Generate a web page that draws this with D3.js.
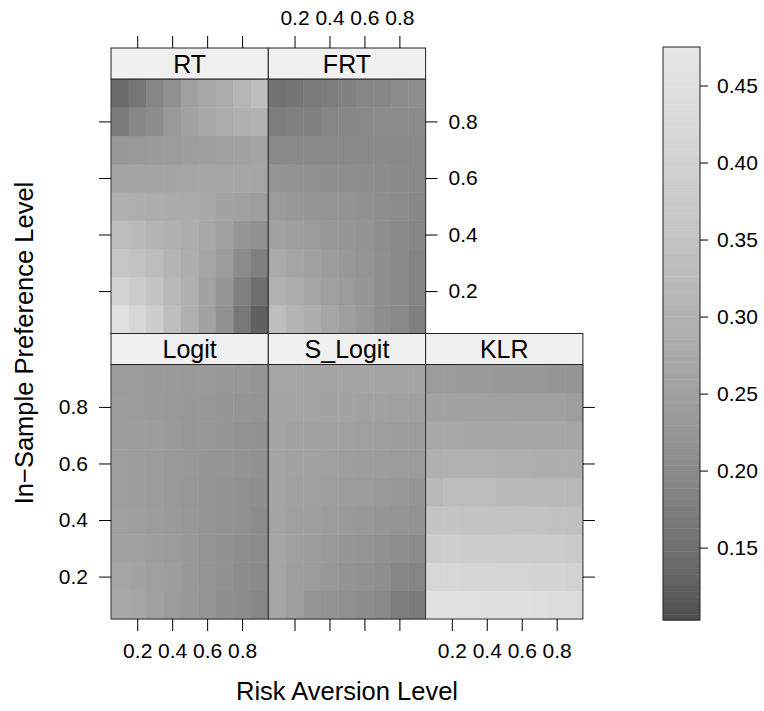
<!DOCTYPE html>
<meta charset="utf-8">
<style>
body {
  margin: 0;
  background: #fff;
}
svg {
  font-family: "Liberation Sans", Arial, sans-serif;
}
.tick text {
  font-size: 21px;
  fill: #000;
}
.tick line {
  stroke: #000;
}
.strip text {
  font-size: 25px;
}
.title {
  font-size: 25.5px;
}
</style>
<body>
<svg width="764" height="711"></svg>
<script src="https://d3js.org/d3.v7.min.js"></script>
<script>

// x: risk aversion level, y: in-sample preference level
var riskLevels = [0.1, 0.2, 0.3, 0.4, 0.5, 0.6, 0.7, 0.8, 0.9];
var prefLevels = [0.1, 0.2, 0.3, 0.4, 0.5, 0.6, 0.7, 0.8, 0.9];
var axisTicks = [0.2, 0.4, 0.6, 0.8];
var keyTicks = [0.15, 0.20, 0.25, 0.30, 0.35, 0.40, 0.45];
var keyRange = [0.103, 0.475];

// one row per preference level (0.1 first), one value per risk level
var rt = [
  [0.456, 0.419, 0.383, 0.335, 0.293, 0.255, 0.214, 0.163, 0.128],
  [0.408, 0.380, 0.354, 0.320, 0.293, 0.255, 0.225, 0.178, 0.149],
  [0.360, 0.347, 0.329, 0.304, 0.287, 0.263, 0.238, 0.203, 0.178],
  [0.329, 0.323, 0.304, 0.293, 0.282, 0.271, 0.250, 0.225, 0.214],
  [0.293, 0.287, 0.282, 0.279, 0.276, 0.273, 0.255, 0.250, 0.245],
  [0.260, 0.260, 0.260, 0.260, 0.263, 0.263, 0.263, 0.266, 0.263],
  [0.230, 0.233, 0.235, 0.238, 0.243, 0.245, 0.250, 0.255, 0.260],
  [0.169, 0.193, 0.203, 0.233, 0.255, 0.271, 0.282, 0.293, 0.298],
  [0.140, 0.161, 0.188, 0.212, 0.250, 0.271, 0.284, 0.307, 0.335]
];
var frt = [
  [0.335, 0.304, 0.282, 0.263, 0.245, 0.230, 0.209, 0.197, 0.178],
  [0.296, 0.282, 0.266, 0.250, 0.238, 0.225, 0.209, 0.199, 0.186],
  [0.276, 0.263, 0.250, 0.240, 0.230, 0.221, 0.209, 0.199, 0.186],
  [0.255, 0.245, 0.238, 0.230, 0.225, 0.218, 0.207, 0.199, 0.193],
  [0.238, 0.230, 0.225, 0.221, 0.218, 0.214, 0.207, 0.203, 0.195],
  [0.221, 0.218, 0.214, 0.209, 0.207, 0.205, 0.203, 0.199, 0.197],
  [0.197, 0.197, 0.197, 0.197, 0.197, 0.197, 0.197, 0.197, 0.197],
  [0.173, 0.178, 0.182, 0.188, 0.193, 0.197, 0.201, 0.203, 0.203],
  [0.154, 0.159, 0.167, 0.173, 0.182, 0.193, 0.193, 0.203, 0.207]
];
var logit = [
  [0.271, 0.263, 0.250, 0.240, 0.230, 0.221, 0.209, 0.203, 0.193],
  [0.263, 0.255, 0.248, 0.243, 0.230, 0.221, 0.214, 0.203, 0.199],
  [0.255, 0.250, 0.243, 0.238, 0.230, 0.221, 0.214, 0.207, 0.203],
  [0.250, 0.245, 0.240, 0.235, 0.230, 0.225, 0.218, 0.214, 0.203],
  [0.245, 0.243, 0.238, 0.233, 0.228, 0.223, 0.218, 0.214, 0.209],
  [0.245, 0.243, 0.238, 0.233, 0.230, 0.225, 0.223, 0.218, 0.214],
  [0.243, 0.240, 0.238, 0.235, 0.230, 0.228, 0.225, 0.216, 0.214],
  [0.240, 0.238, 0.235, 0.233, 0.230, 0.228, 0.225, 0.223, 0.221],
  [0.238, 0.238, 0.235, 0.235, 0.233, 0.233, 0.230, 0.230, 0.225]
];
var sLogit = [
  [0.263, 0.245, 0.225, 0.216, 0.212, 0.203, 0.199, 0.173, 0.167],
  [0.263, 0.245, 0.238, 0.230, 0.218, 0.214, 0.209, 0.193, 0.188],
  [0.263, 0.250, 0.243, 0.235, 0.225, 0.221, 0.214, 0.207, 0.203],
  [0.260, 0.250, 0.245, 0.240, 0.235, 0.230, 0.225, 0.221, 0.216],
  [0.260, 0.253, 0.250, 0.245, 0.240, 0.238, 0.233, 0.230, 0.225],
  [0.260, 0.255, 0.253, 0.250, 0.245, 0.243, 0.240, 0.238, 0.238],
  [0.260, 0.255, 0.255, 0.250, 0.250, 0.248, 0.245, 0.243, 0.243],
  [0.260, 0.260, 0.260, 0.258, 0.258, 0.253, 0.253, 0.250, 0.250],
  [0.263, 0.263, 0.260, 0.260, 0.260, 0.260, 0.260, 0.260, 0.260]
];
var klr = [
  [0.456, 0.452, 0.452, 0.448, 0.448, 0.448, 0.444, 0.437, 0.437],
  [0.419, 0.419, 0.415, 0.415, 0.412, 0.412, 0.408, 0.408, 0.401],
  [0.383, 0.387, 0.383, 0.383, 0.380, 0.380, 0.377, 0.377, 0.373],
  [0.354, 0.354, 0.351, 0.351, 0.351, 0.347, 0.347, 0.344, 0.341],
  [0.317, 0.329, 0.329, 0.329, 0.323, 0.323, 0.320, 0.320, 0.317],
  [0.293, 0.296, 0.296, 0.296, 0.290, 0.290, 0.287, 0.287, 0.287],
  [0.271, 0.271, 0.268, 0.268, 0.268, 0.266, 0.266, 0.266, 0.263],
  [0.255, 0.255, 0.255, 0.253, 0.253, 0.250, 0.250, 0.250, 0.245],
  [0.238, 0.238, 0.235, 0.235, 0.230, 0.230, 0.228, 0.225, 0.225]
];

var panelNames = ["RT", "FRT", "Logit", "S_Logit", "KLR"];
var panelData = [rt, frt, logit, sLogit, klr];
// lattice layout: col, row (row 0 = top)
var panelPos = [[0, 0], [1, 0], [0, 1], [1, 1], [2, 1]];

var svg = d3.select("svg");

// layout
var left = 111, panelW = 157.3;
var stripH = 31, panelH = 254.5;
var topY = 48;

var color = d3.scaleLinear()
    .domain(keyRange)
    .range(["#4d4d4d", "#e6e6e6"])
    .interpolate(d3.interpolateRgb.gamma(2.2));

var fmt1 = d3.format(".1f");

panelNames.forEach(function(name, i) {
  var col = panelPos[i][0], row = panelPos[i][1];
  var x0 = left + col * panelW;
  var s0 = topY + row * (stripH + panelH);
  var y0 = s0 + stripH;

  var x = d3.scaleLinear().domain([0.05, 0.95]).range([x0, x0 + panelW]);
  var y = d3.scaleLinear().domain([0.05, 0.95]).range([y0 + panelH, y0]);

  var g = svg.append("g").attr("class", "panel");

  // cells
  var cells = [];
  panelData[i].forEach(function(r, j) {
    r.forEach(function(v, k) {
      cells.push({x: riskLevels[k], y: prefLevels[j], v: v});
    });
  });
  g.selectAll("rect.cell")
    .data(cells)
    .enter().append("rect")
      .attr("class", "cell")
      .attr("x", function(d) { return x(d.x - 0.05); })
      .attr("y", function(d) { return y(d.y + 0.05); })
      .attr("width", function(d) { return x(d.x + 0.05) - x(d.x - 0.05) + 0.5; })
      .attr("height", function(d) { return y(d.y - 0.05) - y(d.y + 0.05) + 0.5; })
      .attr("fill", function(d) { return color(d.v); });

  g.append("rect")
      .attr("x", x0).attr("y", y0)
      .attr("width", panelW).attr("height", panelH)
      .attr("fill", "none")
      .attr("stroke", "#333");

  // strip
  var strip = g.append("g").attr("class", "strip");
  strip.append("rect")
      .attr("x", x0).attr("y", s0)
      .attr("width", panelW).attr("height", stripH)
      .attr("fill", "#f0f0f0")
      .attr("stroke", "#222");
  strip.append("text")
      .attr("x", x0 + panelW / 2)
      .attr("y", s0 + stripH / 2)
      .attr("dy", "0.36em")
      .attr("text-anchor", "middle")
      .text(name);

  // axes, lattice style: labels alternate between sides
  function addAxis(axis, tx, ty, labels, pad) {
    axis.tickValues(axisTicks).tickSizeOuter(0).tickSize(12).tickPadding(pad)
        .tickFormat(labels ? fmt1 : "");
    var a = svg.append("g").attr("transform", "translate(" + tx + "," + ty + ")").call(axis);
    a.select(".domain").remove();
  }

  if (row === 0) addAxis(d3.axisTop(x), 0, s0, col === 1, 11);
  if (row === 1) addAxis(d3.axisBottom(x), 0, y0 + panelH, col !== 1, 12);
  if (col === 0) addAxis(d3.axisLeft(y), x0, 0, row === 1, 11);
  if ((row === 0 && col === 1) || col === 2) addAxis(d3.axisRight(y), x0 + panelW, 0, row === 0, 11);
});

// colour key
var keyX = 663, keyW = 37, keyTop = 47, keyBottom = 620;
var ky = d3.scaleLinear().domain(keyRange).range([keyBottom, keyTop]);
var steps = d3.range(100).map(function(i) {
  return keyRange[0] + (keyRange[1] - keyRange[0]) * i / 100;
});
var stepH = (keyRange[1] - keyRange[0]) / 100;
svg.append("g").selectAll("rect")
  .data(steps)
  .enter().append("rect")
    .attr("x", keyX)
    .attr("y", function(d) { return ky(d + stepH); })
    .attr("width", keyW)
    .attr("height", function(d) { return ky(d) - ky(d + stepH) + 0.5; })
    .attr("fill", function(d) { return color(d + stepH / 2); });
svg.append("rect")
    .attr("x", keyX).attr("y", keyTop)
    .attr("width", keyW).attr("height", keyBottom - keyTop)
    .attr("fill", "none").attr("stroke", "#222");
var keyAxis = svg.append("g")
    .attr("transform", "translate(" + (keyX + keyW) + ",0)")
    .call(d3.axisRight(ky).tickValues(keyTicks).tickFormat(d3.format(".2f"))
      .tickSize(8).tickPadding(9).tickSizeOuter(0));
keyAxis.select(".domain").remove();

// titles
svg.append("text")
    .attr("class", "title")
    .attr("x", 347).attr("y", 700)
    .attr("text-anchor", "middle")
    .text("Risk Aversion Level");
svg.append("text")
    .attr("class", "title")
    .attr("transform", "translate(33,343) rotate(-90)")
    .attr("text-anchor", "middle")
    .text("In\u2212Sample Preference Level");

</script>
</body>
